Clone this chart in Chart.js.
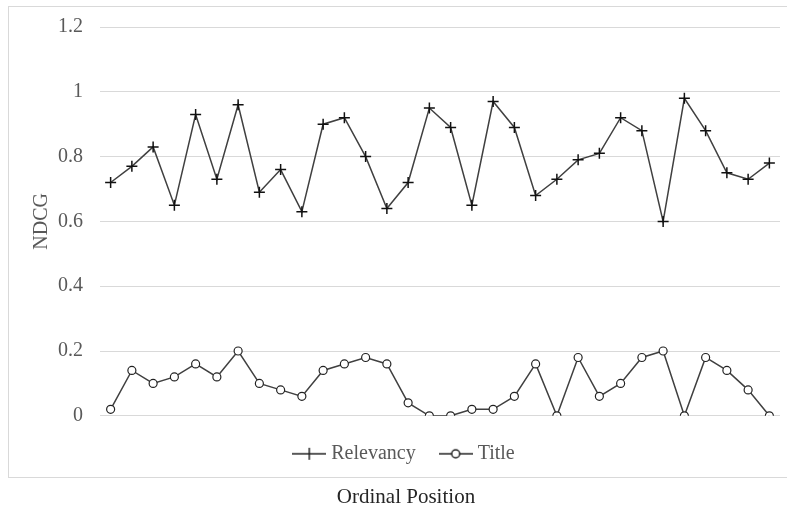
<!DOCTYPE html>
<html>
<head>
<meta charset="utf-8">
<script src="https://cdn.jsdelivr.net/npm/chart.js@4/dist/chart.umd.min.js"></script>
<style>
  html, body { margin: 0; padding: 0; background: #fff; }
  #wrap { width: 787px; height: 511px; }
</style>
</head>
<body>
<div id="wrap"><canvas id="ndcgChart"></canvas></div>
<script>
// NDCG per ordinal position
const positions = Array.from({ length: 32 }, (_, i) => String(i + 1));
const relevancy = [0.72, 0.77, 0.83, 0.65, 0.93, 0.73, 0.96, 0.69, 0.76, 0.63, 0.90, 0.92, 0.80, 0.64, 0.72, 0.95,
  0.89, 0.65, 0.97, 0.89, 0.68, 0.73, 0.79, 0.81, 0.92, 0.88, 0.60, 0.98, 0.88, 0.75, 0.73, 0.78];
const title = [0.02, 0.14, 0.10, 0.12, 0.16, 0.12, 0.20, 0.10, 0.08, 0.06, 0.14, 0.16, 0.18, 0.16, 0.04, 0.00,
  0.00, 0.02, 0.02, 0.06, 0.16, 0.00, 0.18, 0.06, 0.10, 0.18, 0.20, 0.00, 0.18, 0.14, 0.08, 0.00];
const yTicks = { min: 0, max: 1.2, step: 0.2 };

const FONT = "'Liberation Serif', 'Times New Roman', serif";
const LINE = '#404040';
Chart.defaults.font.family = FONT;

// legend swatch: short line with the marker in the middle
function legendSwatch(style) {
  const c = document.createElement('canvas');
  c.width = 34; c.height = 14;
  const g = c.getContext('2d');
  g.strokeStyle = '#222';
  g.lineWidth = 1.5;
  g.beginPath(); g.moveTo(0, 7); g.lineTo(34, 7); g.stroke();
  if (style === 'cross') {
    g.beginPath(); g.moveTo(17, 1); g.lineTo(17, 13); g.stroke();
  } else {
    g.fillStyle = '#fff';
    g.beginPath(); g.arc(17, 7, 4, 0, Math.PI * 2); g.fill(); g.stroke();
  }
  return c;
}

// light grey frame around the plot + legend
const framePlugin = {
  id: 'frame',
  beforeDraw(chart) {
    const ctx = chart.ctx;
    const bottom = Math.round(chart.titleBlock.top) + 3.5;
    ctx.save();
    ctx.strokeStyle = '#d9d9d9';
    ctx.lineWidth = 1;
    ctx.strokeRect(8.5, 6.5, chart.width + 10, bottom - 6.5);
    ctx.restore();
  }
};

const ctx = document.getElementById('ndcgChart').getContext('2d');
new Chart(ctx, {
  type: 'line',
  data: {
    labels: positions,
    datasets: [{
      label: 'Relevancy',
      data: relevancy,
      borderColor: LINE,
      borderWidth: 1.5,
      pointStyle: 'cross',
      pointRadius: 5.5,
      pointBorderColor: '#111',
      pointBorderWidth: 1.5,
      tension: 0
    }, {
      label: 'Title',
      data: title,
      borderColor: LINE,
      borderWidth: 1.5,
      pointStyle: 'circle',
      pointRadius: 4,
      pointBackgroundColor: '#fff',
      pointBorderColor: '#222',
      pointBorderWidth: 1.2,
      tension: 0
    }]
  },
  options: {
    responsive: true,
    maintainAspectRatio: false,
    animation: false,
    layout: { padding: { left: 30, right: 5, top: 18, bottom: 0 } },
    scales: {
      x: {
        display: false,
        offset: true,
        grid: { display: false }
      },
      y: {
        min: yTicks.min,
        max: yTicks.max,
        afterFit(scale) { scale.width = 70; },
        border: { display: false },
        grid: { color: '#d9d9d9', lineWidth: 1, drawTicks: false },
        ticks: {
          stepSize: yTicks.step,
          padding: 17,
          color: '#595959',
          font: { family: FONT, size: 20, lineHeight: 1 },
          callback: (v) => String(Number(v.toFixed(1)))
        },
        title: {
          display: true,
          text: 'NDCG',
          color: '#595959',
          padding: 0,
          font: { family: FONT, size: 20 }
        }
      }
    },
    plugins: {
      legend: {
        position: 'bottom',
        labels: {
          usePointStyle: true,
          pointStyleWidth: 24,
          padding: 28,
          color: '#595959',
          font: { family: FONT, size: 20 },
          generateLabels(chart) {
            return chart.data.datasets.map((ds, i) => ({
              text: ds.label,
              pointStyle: legendSwatch(ds.pointStyle),
              fontColor: '#595959',
              datasetIndex: i,
              hidden: false,
              lineWidth: 0
            }));
          }
        }
      },
      title: {
        display: true,
        position: 'bottom',
        text: 'Ordinal Position',
        color: '#262626',
        padding: { top: 11, bottom: 1 },
        font: { family: FONT, size: 21, weight: 'normal' }
      },
      tooltip: { enabled: false }
    }
  },
  plugins: [framePlugin]
});
</script>
</body>
</html>
